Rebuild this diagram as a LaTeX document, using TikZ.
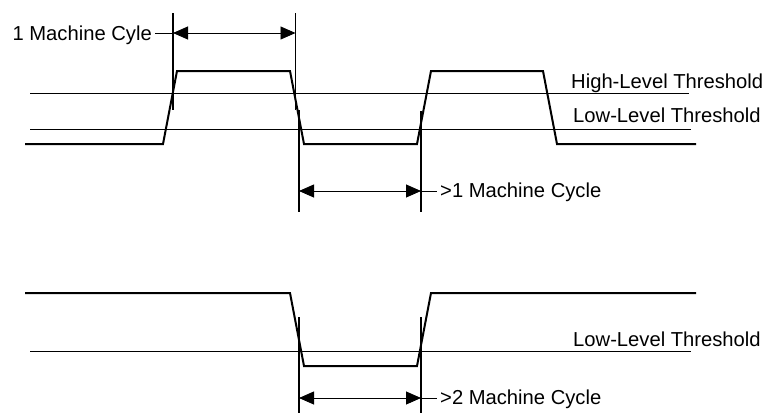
\documentclass[tikz,border=0pt]{standalone}
\usepackage{fontspec}
\setmainfont{Liberation Sans}
\usetikzlibrary{arrows.meta}
\begin{document}
\begin{tikzpicture}[x=1pt,y=-1pt,
  wave/.style={line width=2pt, line join=miter},
  thr/.style={line width=1pt},
  vline/.style={line width=1.1pt},
  vthick/.style={line width=1.6pt},
  dim/.style={line width=0.9pt, {Triangle[length=15pt,width=13pt]}-{Triangle[length=15pt,width=13pt]}},
  lead/.style={line width=0.9pt},
  lbl/.style={font=\fontsize{20.2}{22}\selectfont, inner sep=0pt, anchor=base west}]
\useasboundingbox (0,0) rectangle (765,413);

% top waveform
\draw[wave] (25,144) -- (163,144) -- (177,71) -- (290,71) -- (304,144) -- (417,144)
  -- (431,71) -- (543,71) -- (557,144) -- (696,144);
\draw[thr] (30,93) -- (689,93);
\draw[thr] (30,129) -- (691,129);

% top vertical markers
\coordinate (v1t) at (173,13);  \coordinate (v1b) at (173,110);
\coordinate (v2t) at (295.5,13); \coordinate (v2b) at (295.5,110);
\coordinate (v3t) at (299,110); \coordinate (v3b) at (299,212);
\coordinate (v4t) at (421,111); \coordinate (v4b) at (421,212);
\draw[vline] (v1t) -- (v1b);
\draw[vline] (v2t) -- (v2b);
\draw[vline] (v3t) -- (v3b);
\draw[vthick] (v4t) -- (v4b);

% dimension arrows top
\coordinate (a1l) at (173,33); \coordinate (a1r) at (295.5,33);
\draw[dim] (a1l) -- (a1r);
\node[lbl, anchor=base east] (t1) at (152,40.7) {1 Machine Cyle};
\draw[lead] ([xshift=3pt]t1.east |- a1l) -- (a1l);

\coordinate (a2l) at (299,191); \coordinate (a2r) at (421,191);
\draw[dim] (a2l) -- (a2r);
\node[lbl] (t2) at (440,197) {>1 Machine Cycle};
\draw[lead] (a2r) -- ([xshift=-3pt]t2.west |- a2r);

\node[lbl] (hl) at (571,88.5) {High-Level Threshold};
\node[lbl] (ll) at (573,122) {Low-Level Threshold};

% bottom waveform
\draw[wave] (25,293) -- (290,293) -- (304,366) -- (417,366) -- (431,293) -- (696,293);
\draw[thr] (30,351) -- (691,351);
\node[lbl] (ll2) at (573,346.5) {Low-Level Threshold};

\coordinate (v5t) at (299,317); \coordinate (v5b) at (299,413);
\coordinate (v6t) at (421,317); \coordinate (v6b) at (421,413);
\draw[vline] (v5t) -- (v5b);
\draw[vthick] (v6t) -- (v6b);

\coordinate (a3l) at (299,398); \coordinate (a3r) at (421,398);
\draw[dim] (a3l) -- (a3r);
\node[lbl] (t3) at (440,404) {>2 Machine Cycle};
\draw[lead] (a3r) -- ([xshift=-3pt]t3.west |- a3r);
\end{tikzpicture}
\end{document}
